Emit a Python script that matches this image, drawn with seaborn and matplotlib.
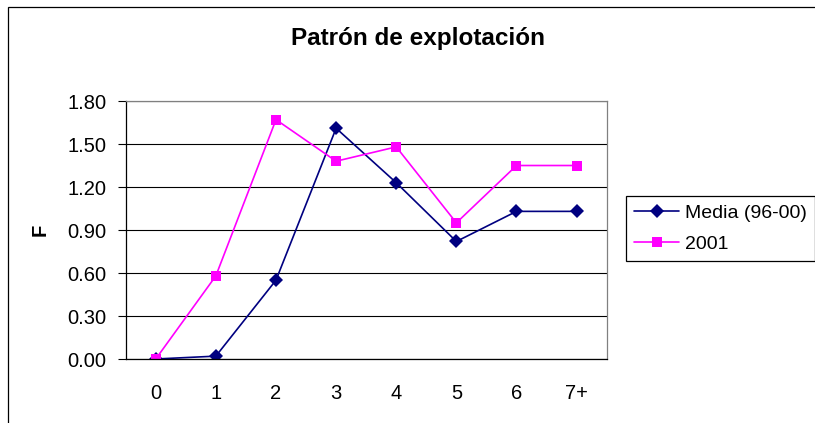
import pandas as pd
import seaborn as sns
import matplotlib.pyplot as plt
from matplotlib.patches import Rectangle

# edades y valores de F
ages = ['0', '1', '2', '3', '4', '5', '6', '7+']
media = [0.00, 0.02, 0.55, 1.61, 1.23, 0.82, 1.03, 1.03]
f2001 = [0.00, 0.58, 1.67, 1.38, 1.48, 0.95, 1.35, 1.35]
series_names = ['Media (96-00)', '2001']
yticks = [0.00, 0.30, 0.60, 0.90, 1.20, 1.50, 1.80]

sns.set_theme(style='white')
plt.rcParams['font.family'] = ['Liberation Sans', 'DejaVu Sans']
plt.rcParams['text.color'] = 'black'
plt.rcParams['xtick.color'] = 'black'
plt.rcParams['ytick.color'] = 'black'
plt.rcParams['xtick.labelcolor'] = 'black'
plt.rcParams['ytick.labelcolor'] = 'black'

df = pd.DataFrame({
    'pos': list(range(len(ages))) * 2,
    'F': media + f2001,
    'serie': [series_names[0]] * len(ages) + [series_names[1]] * len(ages),
})

fig = plt.figure(figsize=(8.15, 4.23), dpi=100)
ax = fig.add_axes([0.1542, 0.1513, 0.5902, 0.6099])

sns.lineplot(data=df, x='pos', y='F', hue='serie', style='serie',
             palette={series_names[0]: '#000080', series_names[1]: '#FF00FF'},
             markers={series_names[0]: 'D', series_names[1]: 's'},
             dashes=False, markersize=7, markeredgewidth=0, linewidth=1.2,
             ax=ax, legend=True)

ax.set_xlim(-0.5, len(ages) - 0.5)
ax.set_ylim(0, 1.80)
ax.set_yticks(yticks)
ax.set_yticklabels([f'{v:.2f}' for v in yticks])
ax.set_xticks(range(len(ages)))
ax.set_xticklabels(ages)
ax.set_xticks([i - 0.5 for i in range(len(ages) + 1)], minor=True)
ax.tick_params(axis='x', which='major', length=0, pad=18, labelsize=14.5, labelcolor='black')
ax.tick_params(axis='x', which='minor', length=6, width=0.8, color='black', direction='out')
ax.tick_params(axis='y', which='major', length=6, width=0.8, color='black', direction='out',
               pad=8, labelsize=14.5, left=True, labelcolor='black')
ax.set_xlabel('')
ax.set_ylabel('')

ax.grid(axis='y', color='black', linewidth=0.8)
ax.grid(axis='x', visible=False)
ax.spines['left'].set_color('black')
ax.spines['bottom'].set_color('black')
ax.spines['top'].set_color('#808080')
ax.spines['right'].set_color('#808080')
for s in ax.spines.values():
    s.set_linewidth(0.9)

handles, labels = ax.get_legend_handles_labels()
ax.get_legend().remove()
leg = fig.legend(handles, labels, loc='upper left', bbox_to_anchor=(626 / 815, 1 - 196 / 423),
                 bbox_transform=fig.transFigure, borderaxespad=0, fontsize=14,
                 frameon=True, fancybox=False, edgecolor='black', framealpha=1,
                 handlelength=2.3, handletextpad=0.3, labelspacing=0.7, borderpad=0.42,
                 labelcolor='black')
leg.get_frame().set_linewidth(0.9)

fig.text(418 / 815, 1 - 38 / 423, 'Patrón de explotación', ha='center', va='center',
         fontsize=17.5, fontweight='bold', color='black')
fig.text(40 / 815, 1 - 230 / 423, 'F', ha='center', va='center', rotation=90,
         fontsize=14.5, fontweight='bold', color='black')

# marco del area del grafico (recortado a derecha y abajo)
fig.patches.append(Rectangle((8 / 815, -0.1), 1.2, 1 - 7 / 423 + 0.1, transform=fig.transFigure,
                             fill=False, edgecolor='black', linewidth=0.9, clip_on=False))

fig.savefig('out.png', dpi=100)
